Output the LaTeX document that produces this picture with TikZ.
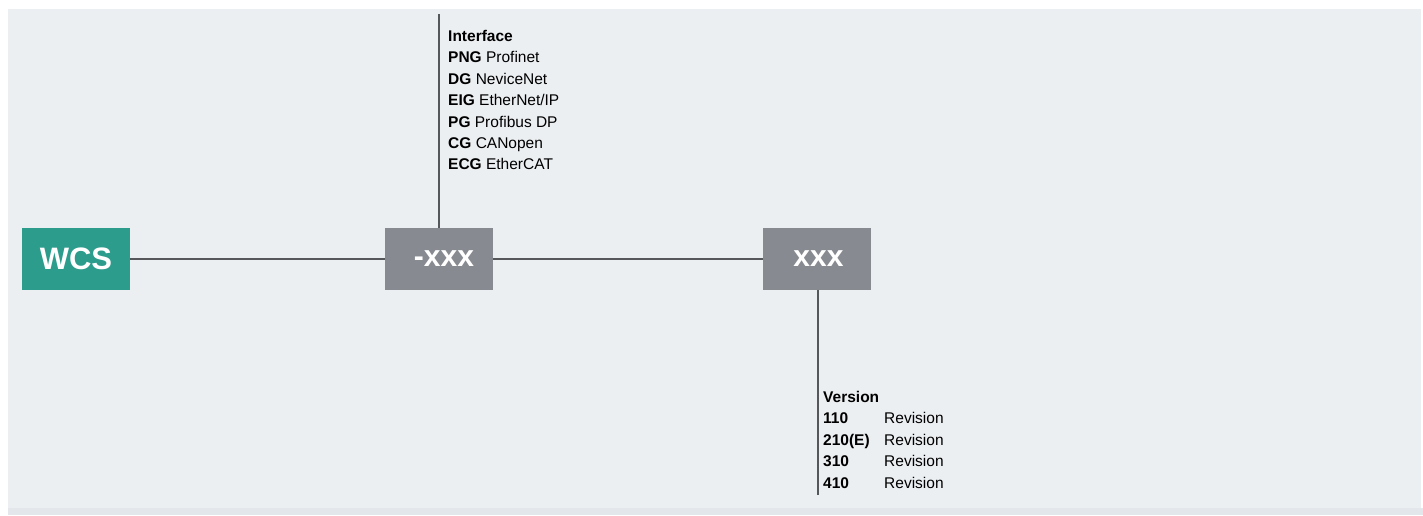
\documentclass[tikz,border=0pt]{standalone}
\usepackage{fontspec}
\setmainfont{Liberation Sans}
\definecolor{panel}{HTML}{ECEFF2}
\definecolor{strip}{HTML}{E3E7EB}
\definecolor{teal}{HTML}{2C9C8D}
\definecolor{boxgrey}{HTML}{878A91}
\definecolor{linegrey}{HTML}{55575B}
\begin{document}
\begin{tikzpicture}[x=1pt,y=-1pt,
  box/.style={draw=none,minimum width=108pt,minimum height=62pt,inner sep=0pt,
    text=white,font=\fontsize{30}{31}\selectfont\bfseries},
  wcsbox/.style={box,fill=teal},
  xbox/.style={box,fill=boxgrey},
  conn/.style={draw=linegrey,line width=1.6pt},
  lbl/.style={anchor=base west,inner sep=0pt,font=\fontsize{15.5}{16}\selectfont,text=black},
]
\useasboundingbox (0,0) rectangle (1423,515);
\fill[white] (0,0) rectangle (1423,515);
\fill[panel] (8,9) rectangle (1421,508);
\fill[strip] (8,508) rectangle (1423,515);

\node[wcsbox] (wcs) at (76,259) {\fontsize{31}{32}\selectfont WCS};
\node[xbox] (iface) at (439,259) {\hspace{10pt}-xxx};
\node[xbox] (ver) at (817,259) {\hspace{3pt}xxx};

\coordinate (itop) at (439,14);
\coordinate (vbot) at (818,495);

\draw[conn] (wcs.east) -- (iface.west);
\draw[conn] (iface.east) -- (ver.west);
\draw[conn] (iface.north) -- (itop);
\draw[conn] ([xshift=1pt]ver.south) -- (vbot);

% Interface list
\node[lbl] (ih) at (448,41) {\bfseries Interface};
\node[lbl] (i1) at (448,62) {\bfseries PNG\mdseries\ Profinet};
\node[lbl] (i2) at (448,84) {\bfseries DG\mdseries\ NeviceNet};
\node[lbl] (i3) at (448,105) {\bfseries EIG\mdseries\ EtherNet/IP};
\node[lbl] (i4) at (448,127) {\bfseries PG\mdseries\ Profibus DP};
\node[lbl] (i5) at (448,148) {\bfseries CG\mdseries\ CANopen};
\node[lbl] (i6) at (448,169) {\bfseries ECG\mdseries\ EtherCAT};

% Version list
\node[lbl] (vh) at (823,402) {\bfseries Version};
\node[lbl] (v1) at (823,423) {\bfseries 110};
\node[lbl] (v2) at (823,445) {\bfseries 210(E)};
\node[lbl] (v3) at (823,466) {\bfseries 310};
\node[lbl] (v4) at (823,488) {\bfseries 410};
\node[lbl] (r1) at (884,423) {Revision};
\node[lbl] (r2) at (884,445) {Revision};
\node[lbl] (r3) at (884,466) {Revision};
\node[lbl] (r4) at (884,488) {Revision};
\end{tikzpicture}
\end{document}
